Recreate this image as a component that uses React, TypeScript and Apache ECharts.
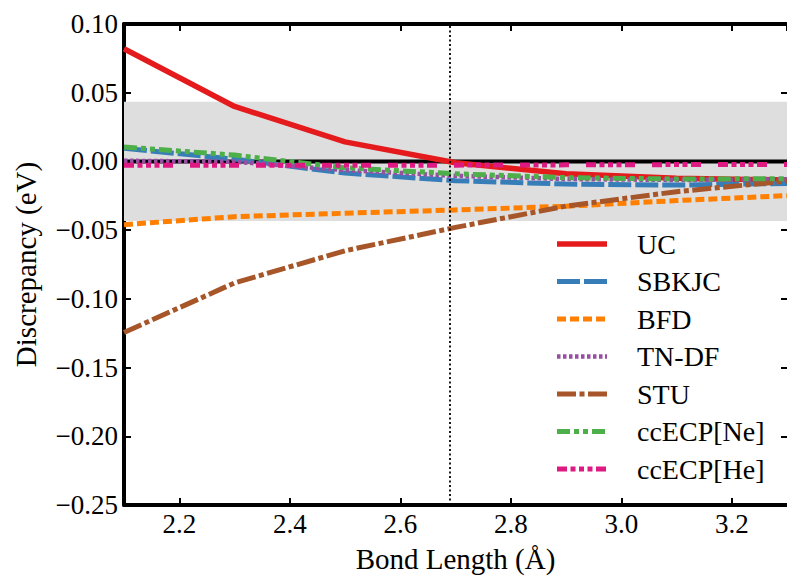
import React, { useEffect, useRef } from "react";
import * as echarts from "echarts";

// Bond lengths (Å) at which each pseudopotential was evaluated
const bondLengths = [2.1, 2.3, 2.5, 2.7, 2.9, 3.1, 3.3];

// Discrepancy against the all-electron reference (eV)
const ucValues = [0.082, 0.04, 0.0142, -0.001, -0.009, -0.0123, -0.0135];
const sbkjcValues = [0.0095, 0.0017, -0.0085, -0.014, -0.0165, -0.0172, -0.016];
const bfdValues = [-0.046, -0.0402, -0.0377, -0.0353, -0.0326, -0.0285, -0.0249];
const tndfValues = [0.0005, -0.0002, -0.0063, -0.0105, -0.0128, -0.0135, -0.013];
const stuValues = [-0.1245, -0.0884, -0.065, -0.048, -0.0325, -0.022, -0.0143];
const ccNeValues = [0.0105, 0.0046, -0.0046, -0.009, -0.0118, -0.0128, -0.0126];
const ccHeValues = [-0.0027, -0.0027, -0.0027, -0.0027, -0.0025, -0.0023, -0.0023];

const seriesNames = ["UC", "SBKJC", "BFD", "TN-DF", "STU", "ccECP[Ne]", "ccECP[He]"];
const seriesValues = [ucValues, sbkjcValues, bfdValues, tndfValues, stuValues, ccNeValues, ccHeValues];

// Equilibrium bond length and the chemical-accuracy band (1 kcal/mol in eV)
const equilibriumLength = 2.693;
const chemicalAccuracy = 0.0434;

// Line looks, in series order
const lineLooks: { color: string; width: number; dash: number[] | "solid" }[] = [
  { color: "#e41a1c", width: 5.5, dash: "solid" },
  { color: "#377eb8", width: 5, dash: [23, 4] },
  { color: "#ff7f00", width: 5, dash: [9, 4] },
  { color: "#984ea3", width: 4.5, dash: [3.5, 2.5] },
  { color: "#a65628", width: 5, dash: [19, 3.5, 5, 3.5] },
  { color: "#4daf4a", width: 5, dash: [13, 4, 5, 4, 5, 4] },
  { color: "#de1a82", width: 5, dash: [10, 3.5, 5, 3.5, 5, 3.5, 5, 3.5, 10, 17] },
];

const FONT = "Liberation Serif, serif";

const legendLineX0 = 557;
const legendLineX1 = 607;
const legendTextX = 637;
const legendTop = 244;
const legendStep = 37.5;

const fmtY = (v: number) => {
  const r = Math.round(v * 100) / 100;
  return (r < 0 ? "\u2212" : "") + Math.abs(r).toFixed(2);
};

export default function App() {
  const ref = useRef<HTMLDivElement>(null);

  useEffect(() => {
    if (!ref.current) return;
    const chart = echarts.init(ref.current, null, { renderer: "svg" });

    const tickStyle = { inside: true, length: 7, lineStyle: { color: "#000", width: 2 } };
    const xBase = {
      type: "value" as const,
      min: 2.1,
      max: 3.3,
      splitNumber: 6,
      minInterval: 0.2,
      maxInterval: 0.2,
      splitLine: { show: false },
    };
    const yBase = {
      type: "value" as const,
      min: -0.25,
      max: 0.1,
      interval: 0.05,
      splitLine: { show: false },
    };

    const lineSeries = seriesNames.map((name, i) => ({
      name,
      type: "line",
      z: 3,
      silent: true,
      symbol: "none",
      showSymbol: false,
      data: bondLengths.map((x, j) => [x, seriesValues[i][j]]),
      lineStyle: {
        color: lineLooks[i].color,
        width: lineLooks[i].width,
        type: lineLooks[i].dash,
        cap: "butt",
        join: "round",
      },
    }));

    const legendGraphics: any[] = [];
    seriesNames.forEach((name, i) => {
      const y = legendTop + i * legendStep;
      legendGraphics.push({
        type: "line",
        shape: { x1: legendLineX0, y1: y, x2: legendLineX1, y2: y },
        style: {
          stroke: lineLooks[i].color,
          lineWidth: lineLooks[i].width,
          lineDash: lineLooks[i].dash === "solid" ? null : lineLooks[i].dash,
          lineCap: "butt",
        },
        silent: true,
      });
      legendGraphics.push({
        type: "text",
        x: legendTextX,
        y,
        style: {
          text: name,
          fontFamily: FONT,
          fontSize: 28,
          fill: "#000",
          align: "left",
          verticalAlign: "middle",
        },
        silent: true,
      });
    });

    chart.setOption({
      animation: false,
      backgroundColor: "#fff",
      textStyle: { fontFamily: FONT },
      grid: { left: 124, right: 0, top: 24, bottom: 70, containLabel: false },
      xAxis: [
        {
          ...xBase,
          position: "bottom",
          axisLine: { show: true, onZero: false, lineStyle: { color: "#000", width: 4 } },
          axisTick: tickStyle,
          axisLabel: {
            color: "#000",
            fontFamily: FONT,
            fontSize: 27,
            margin: 5,
            showMinLabel: false,
            showMaxLabel: false,
            formatter: (v: number) => v.toFixed(1),
          },
          name: "Bond Length (Å)",
          nameLocation: "middle",
          nameGap: 39,
          nameTextStyle: { color: "#000", fontFamily: FONT, fontSize: 29 },
        },
        {
          ...xBase,
          position: "top",
          axisLine: { show: true, onZero: false, lineStyle: { color: "#000", width: 4 } },
          axisTick: tickStyle,
          axisLabel: { show: false },
        },
      ],
      yAxis: [
        {
          ...yBase,
          position: "left",
          axisLine: { show: true, onZero: false, lineStyle: { color: "#000", width: 4 } },
          axisTick: tickStyle,
          axisLabel: {
            color: "#000",
            fontFamily: FONT,
            fontSize: 27,
            margin: 6,
            formatter: fmtY,
          },
          name: "Discrepancy (eV)",
          nameLocation: "middle",
          nameGap: 84,
          nameTextStyle: { color: "#000", fontFamily: FONT, fontSize: 29 },
        },
        {
          ...yBase,
          position: "right",
          axisLine: { show: false, onZero: false },
          axisTick: { ...tickStyle, length: 6 },
          axisLabel: { show: false },
        },
      ],
      series: [
        {
          name: "zero",
          type: "line",
          z: 2,
          silent: true,
          symbol: "none",
          data: [
            [2.1, 0],
            [3.3, 0],
          ],
          lineStyle: { color: "#000", width: 4 },
          markArea: {
            silent: true,
            z: 1,
            itemStyle: { color: "#dedede" },
            data: [[{ yAxis: chemicalAccuracy }, { yAxis: -chemicalAccuracy }]],
          },
          markLine: {
            silent: true,
            z: 5,
            symbol: ["none", "none"],
            label: { show: false },
            lineStyle: { color: "#000", width: 1.8, type: [2, 2.5] },
            data: [{ xAxis: equilibriumLength }],
          },
        },
        ...lineSeries,
      ],
      graphic: legendGraphics,
    });

    return () => chart.dispose();
  }, []);

  return (
    <div
      ref={ref}
      style={{ position: "fixed", left: 0, top: 0, width: 787, height: 578 }}
    />
  );
}
